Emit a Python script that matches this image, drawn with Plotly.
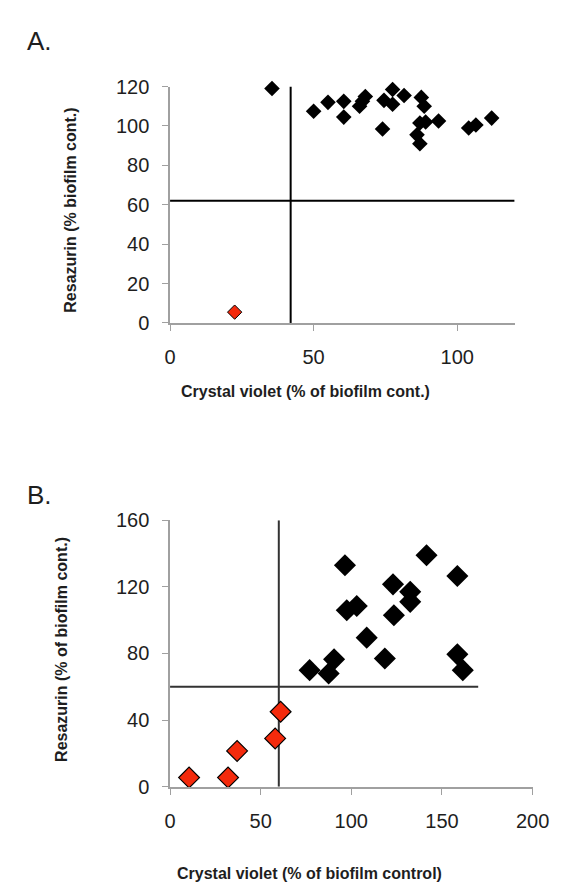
import plotly.graph_objects as go

W, H = 562, 886

# ---------------- Panel A data ----------------
a_black_x = [35.5, 50, 55, 60.5, 60.5, 66, 67, 68, 74.5, 74, 77.5, 77.5, 81.5,
             87.5, 88.5, 87, 89, 93.5, 86, 87, 104, 106.5, 112]
a_black_y = [119, 107.5, 112, 112.5, 104.5, 110, 112.5, 115, 113, 98.5, 118.5, 111, 115.5,
             114.5, 110, 101.5, 102, 102.5, 95.5, 91, 99, 100.5, 104]
a_red_x = [22.5]
a_red_y = [5.5]
a_cut_x = 42     # vertical threshold
a_cut_y = 62     # horizontal threshold
a_xmax, a_ymax = 120, 120
a_xticks = [0, 50, 100]
a_yticks = [0, 20, 40, 60, 80, 100, 120]

# ---------------- Panel B data ----------------
b_black_x = [77, 87.5, 90.5, 96.5, 97.5, 103, 108.5, 118.5, 123, 123.5, 132.5, 132.5,
             141.5, 158.5, 158.5, 161.5]
b_black_y = [70, 68, 76.5, 133, 106, 108.5, 89.5, 77, 121.5, 103, 117, 111,
             139, 126.5, 79.5, 70]
b_red_x = [10.5, 32, 37, 58, 61]
b_red_y = [5.5, 5.5, 21.5, 29, 45]
b_cut_x = 60
b_cut_y = 60
b_xmax, b_ymax = 200, 160
b_hline_end = 170
b_xticks = [0, 50, 100, 150, 200]
b_yticks = [0, 40, 80, 120, 160]

RED = "#f42a0c"
AXC = "#a0a0a0"
TXT = "#1e1e1e"
FONT = "Liberation Sans, Arial, sans-serif"

fig = go.Figure()

# Panel A
fig.add_trace(go.Scatter(x=[a_cut_x, a_cut_x], y=[0, a_ymax], mode="lines",
                         line=dict(color="black", width=2), xaxis="x", yaxis="y",
                         hoverinfo="skip", cliponaxis=False))
fig.add_trace(go.Scatter(x=[0, a_xmax], y=[a_cut_y, a_cut_y], mode="lines",
                         line=dict(color="black", width=2), xaxis="x", yaxis="y",
                         hoverinfo="skip", cliponaxis=False))
fig.add_trace(go.Scatter(x=a_black_x, y=a_black_y, mode="markers",
                         marker=dict(symbol="diamond", size=12, color="black",
                                     line=dict(width=0)),
                         xaxis="x", yaxis="y", cliponaxis=False))
fig.add_trace(go.Scatter(x=a_red_x, y=a_red_y, mode="markers",
                         marker=dict(symbol="diamond", size=11, color=RED,
                                     line=dict(width=1, color="black")),
                         xaxis="x", yaxis="y", cliponaxis=False))

# Panel B
fig.add_trace(go.Scatter(x=[b_cut_x, b_cut_x], y=[0, b_ymax], mode="lines",
                         line=dict(color="#333333", width=2), xaxis="x2", yaxis="y2",
                         hoverinfo="skip", cliponaxis=False))
fig.add_trace(go.Scatter(x=[0, b_hline_end], y=[b_cut_y, b_cut_y], mode="lines",
                         line=dict(color="#333333", width=2), xaxis="x2", yaxis="y2",
                         hoverinfo="skip", cliponaxis=False))
fig.add_trace(go.Scatter(x=b_black_x, y=b_black_y, mode="markers",
                         marker=dict(symbol="diamond", size=17, color="black",
                                     line=dict(width=0)),
                         xaxis="x2", yaxis="y2", cliponaxis=False))
fig.add_trace(go.Scatter(x=b_red_x, y=b_red_y, mode="markers",
                         marker=dict(symbol="diamond", size=16, color=RED,
                                     line=dict(width=1.2, color="black")),
                         xaxis="x2", yaxis="y2", cliponaxis=False))

def px_x(p):
    return p / W

def px_y(p):
    return 1 - p / H

axis_common = dict(showgrid=False, zeroline=False, showline=True, linecolor=AXC,
                   linewidth=1.5, ticks="outside", tickcolor=AXC, ticklen=6,
                   tickwidth=1.2, tickfont=dict(family=FONT, size=20, color=TXT))

fig.update_layout(
    width=W, height=H, margin=dict(l=0, r=0, t=0, b=0),
    paper_bgcolor="white", plot_bgcolor="white", showlegend=False,
    xaxis=dict(domain=[px_x(162.7), px_x(522)], range=[0, a_xmax], tickvals=a_xticks,
               anchor="y", ticklabelstandoff=9, **axis_common),
    yaxis=dict(domain=[px_y(311.7), px_y(69.3)], range=[0, a_ymax], tickvals=a_yticks,
               anchor="x", ticklabelstandoff=9, **axis_common),
    xaxis2=dict(domain=[px_x(162.7), px_x(540.7)], range=[0, b_xmax], tickvals=b_xticks,
                anchor="y2", ticklabelstandoff=9, **axis_common),
    yaxis2=dict(domain=[px_y(787.3), px_y(514)], range=[0, b_ymax], tickvals=b_yticks,
                anchor="x2", ticklabelstandoff=9, **axis_common),
)

title_font = dict(family=FONT, size=16, color=TXT, weight="bold")
panel_font = dict(family=FONT, size=26, color=TXT)
annos = [
    dict(text="A.", x=px_x(11), y=px_y(23), xanchor="left", yanchor="middle", font=panel_font),
    dict(text="B.", x=px_x(11), y=px_y(488), xanchor="left", yanchor="middle", font=panel_font),
    dict(text="Resazurin (% biofilm cont.)", x=px_x(59), y=px_y(196), textangle=-90,
         xanchor="center", yanchor="middle", font=title_font),
    dict(text="Crystal violet (% of biofilm cont.)", x=px_x(304), y=px_y(382),
         xanchor="center", yanchor="middle", font=title_font),
    dict(text="Resazurin (% of biofilm cont.)", x=px_x(50), y=px_y(646), textangle=-90,
         xanchor="center", yanchor="middle", font=title_font),
    dict(text="Crystal violet (% of biofilm control)", x=px_x(308), y=px_y(876),
         xanchor="center", yanchor="middle", font=title_font),
]
for a in annos:
    a.update(xref="paper", yref="paper", showarrow=False)
fig.update_layout(annotations=annos)

fig.write_html("out.html")
